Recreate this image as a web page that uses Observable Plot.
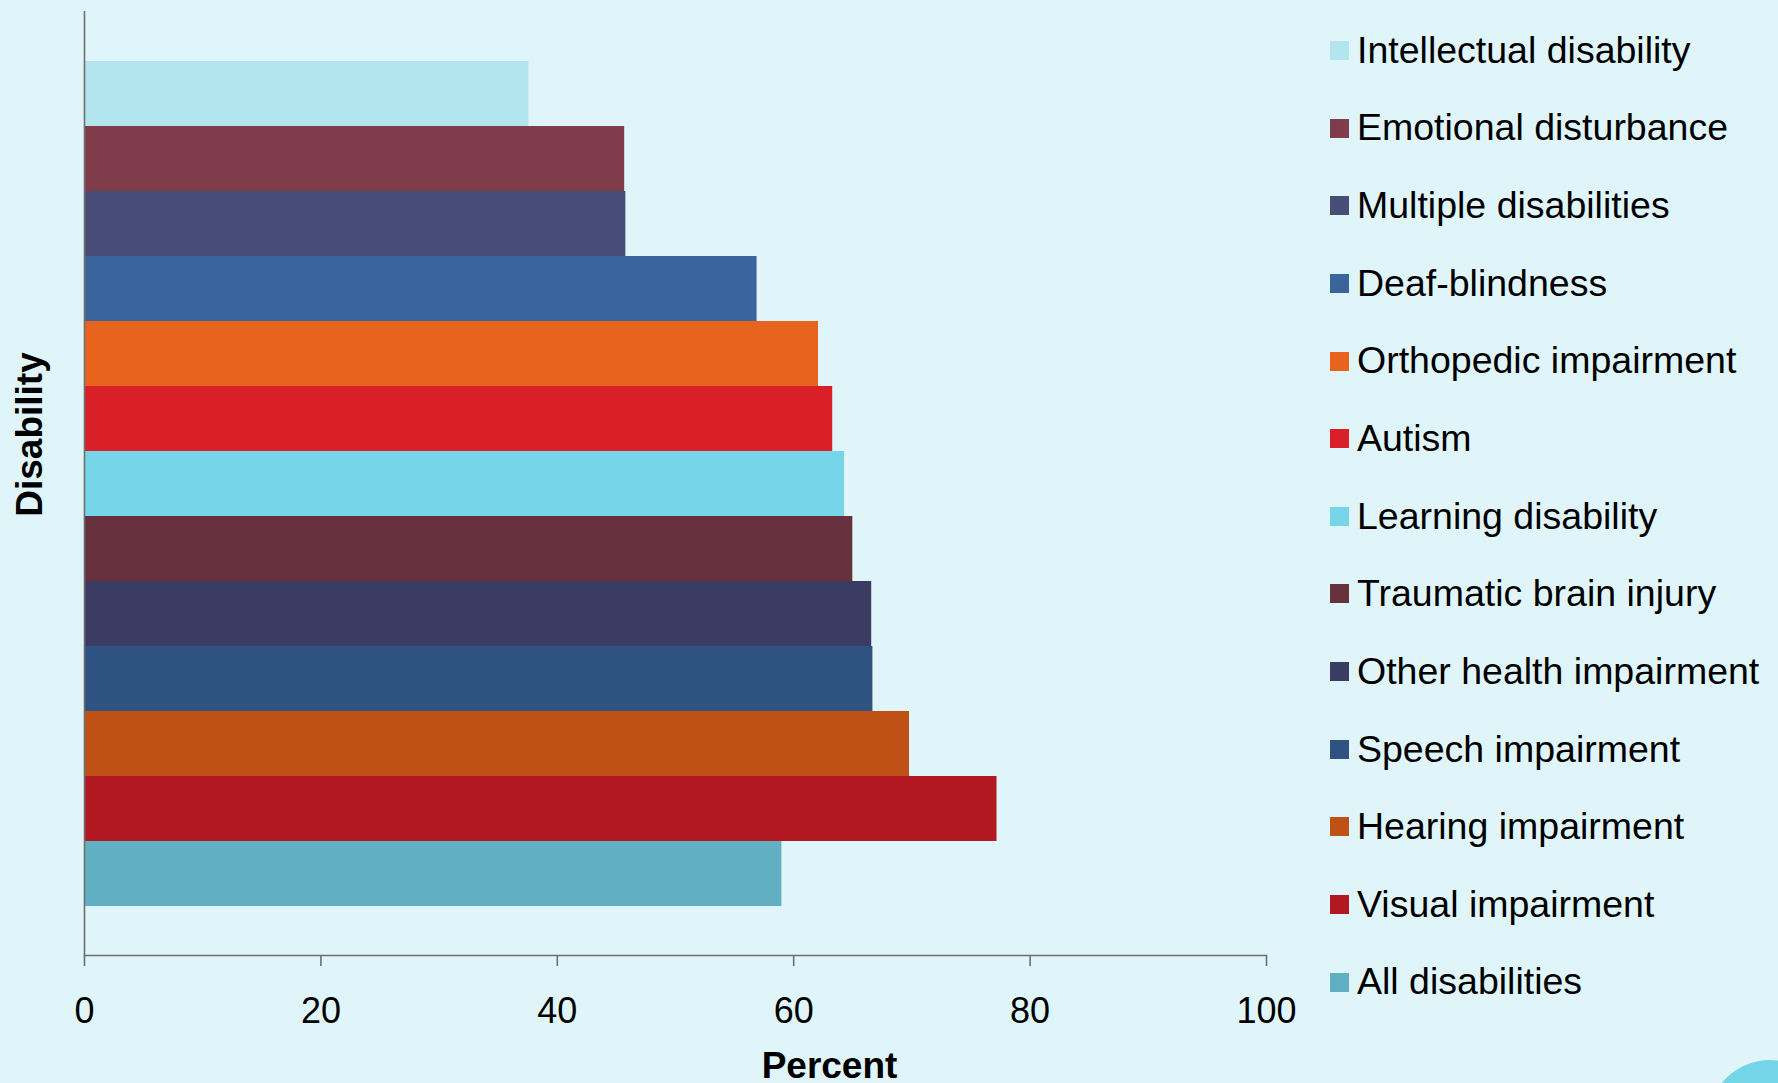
<!DOCTYPE html>
<html>
<head>
<meta charset="utf-8">
<script src="https://cdn.jsdelivr.net/npm/d3@7"></script>
<script src="https://cdn.jsdelivr.net/npm/@observablehq/plot@0.6"></script>
<style>
  html, body { margin: 0; padding: 0; background: #dff5f9; }
  #wrap { position: relative; width: 1778px; height: 1083px; overflow: hidden; background: #dff5f9;
          font-family: "Liberation Sans", Arial, Helvetica, sans-serif; }
  #chart { position: absolute; left: 0; top: 0; }
  .row { position: absolute; left: 1330px; height: 40px; display: flex; align-items: center; white-space: nowrap; }
  .sw { width: 19px; height: 19px; margin-right: 8px; flex: none; }
  .lb { font-size: 37.5px; line-height: 1; color: #000; }
  #blob { position: absolute; left: 1708px; top: 1060px; width: 124px; height: 124px; border-radius: 50%; background: #74d5e8; }
</style>
</head>
<body>
<div id="wrap">
  <div id="chart"></div>
  <div id="legend"></div>
  <div id="blob"></div>
</div>
<script>
const categories = [
  "Intellectual disability",
  "Emotional disturbance",
  "Multiple disabilities",
  "Deaf-blindness",
  "Orthopedic impairment",
  "Autism",
  "Learning disability",
  "Traumatic brain injury",
  "Other health impairment",
  "Speech impairment",
  "Hearing impairment",
  "Visual impairment",
  "All disabilities"
];
const values = [37.6, 45.7, 45.8, 56.9, 62.1, 63.3, 64.3, 65.0, 66.6, 66.7, 69.8, 77.2, 59.0];
const colors = [
  "#b3e5ef", "#7f3c4a", "#484d78", "#39649c", "#e8631e", "#d91f28", "#76d5e8",
  "#66303d", "#3a3c63", "#2e5281", "#c05116", "#b21821", "#61afc3"
];
const xTicks = [0, 20, 40, 60, 80, 100];
const xLabel = "Percent";
const yLabel = "Disability";

const data = categories.map((c, i) => ({category: c, value: values[i]}));
const axisColor = "#6e6e6e";

const chart = Plot.plot({
  width: 1300,
  height: 1083,
  marginLeft: 84,
  marginRight: 34,
  marginTop: 11,
  marginBottom: 128,
  style: {background: "transparent", fontFamily: "'Liberation Sans', Arial, Helvetica, sans-serif", fontSize: "36px", color: "#000", overflow: "visible"},
  x: {domain: [0, 100], ticks: xTicks, label: null},
  y: {domain: categories, paddingInner: 0, paddingOuter: 0.75, axis: null},
  color: {domain: categories, range: colors},
  marks: [
    Plot.barX(data, {x: "value", y: "category", fill: "category"}),
    Plot.ruleX([0], {stroke: axisColor, strokeWidth: 1.6}),
    Plot.frame({anchor: "bottom", stroke: axisColor, strokeWidth: 1.6}),
    Plot.axisX({ticks: xTicks, tickSize: 11, tickPadding: 31, stroke: axisColor, strokeWidth: 1.6, label: null, fontSize: 36, fill: "#000"}),
    Plot.text([yLabel], {frameAnchor: "left", textAnchor: "middle", rotate: -90, dx: -54, dy: -49, fontWeight: "bold", fontSize: 37, fill: "#000"}),
    Plot.text([xLabel], {frameAnchor: "bottom", textAnchor: "middle", lineAnchor: "top", dx: 154, dy: 96, fontWeight: "bold", fontSize: 37, fill: "#000"})
  ]
});
document.getElementById("chart").appendChild(chart);

const legend = document.getElementById("legend");
const rowTop0 = 50.4, rowStep = 77.65;
categories.forEach((c, i) => {
  const row = document.createElement("div");
  row.className = "row";
  row.style.top = (rowTop0 + i * rowStep - 20) + "px";
  const sw = document.createElement("div");
  sw.className = "sw";
  sw.style.background = colors[i];
  const lb = document.createElement("span");
  lb.className = "lb";
  lb.textContent = c;
  row.appendChild(sw);
  row.appendChild(lb);
  legend.appendChild(row);
});
</script>
</body>
</html>
